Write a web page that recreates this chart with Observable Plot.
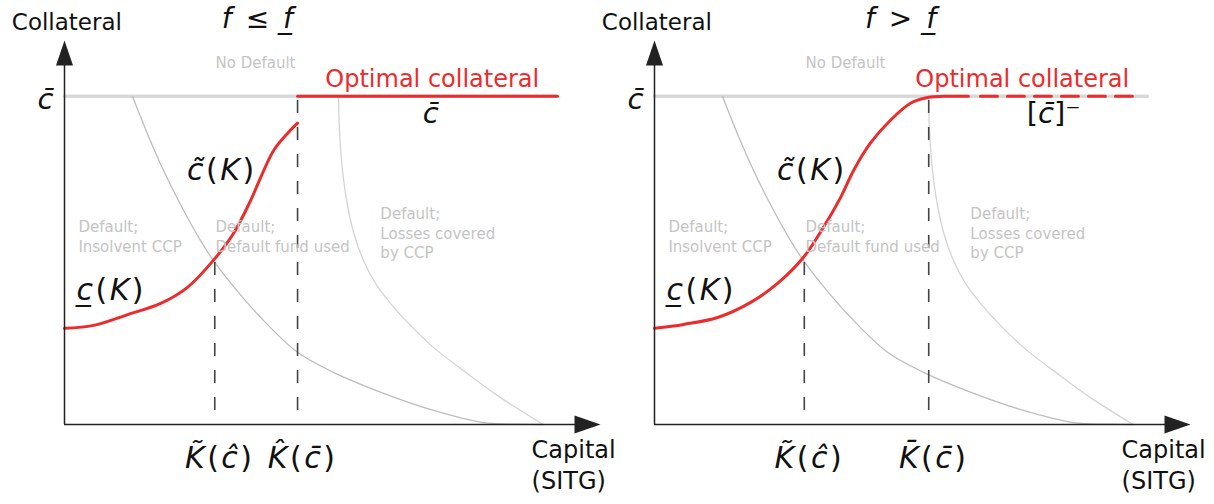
<!DOCTYPE html>
<html><head><meta charset="utf-8">
<script src="https://cdn.jsdelivr.net/npm/d3@7"></script>
<script src="https://cdn.jsdelivr.net/npm/@observablehq/plot@0.6"></script>
<style>
body{margin:0;background:#fff;}
#wrap{position:relative;width:1214px;height:504px;overflow:hidden;background:#fff;}
#wrap svg{position:absolute;top:0;}
</style></head><body><div id="wrap"></div>
<script>
// ---------------- data (Capital K, Collateral c) ----------------
const capitalMax = 1.12;
const collateralMax = 1.17;
const cBar = 1;

const titles = ["*f*\u2002\u2264\u2002*f\u0332*", "*f*\u2002>\u2002*f\u0332*"];

// optimal collateral, left panel (f <= f_)
const redLeft = [[0,0.293],[0.061,0.302],[0.132,0.335],[0.201,0.369],[0.257,0.418],[0.311,0.500],[0.353,0.582],[0.389,0.683],[0.410,0.753],[0.437,0.835],[0.466,0.887],[0.487,0.918]];
const redLeftFlat = [[0.487,1],[1.030,1]];
// optimal collateral, right panel (f > f_)
const redRight = [[0,0.293],[0.061,0.305],[0.132,0.326],[0.201,0.372],[0.257,0.430],[0.311,0.509],[0.353,0.601],[0.389,0.692],[0.416,0.774],[0.451,0.857],[0.493,0.927],[0.535,0.979],[0.573,0.997],[0.604,1],[0.656,1]];
const redRightLimit = [[0.681,1],[1.0,1]];

// c-bar ceiling
const ceiling = [[0,1],[1.030,1]];
// region boundaries
const insolventBoundary = [[0.142,1],[0.173,0.887],[0.207,0.774],[0.249,0.652],[0.284,0.561],[0.311,0.500],[0.353,0.421],[0.410,0.326],[0.487,0.220],[0.562,0.159],[0.667,0.095],[0.771,0.043],[0.875,0.006],[0.947,0.001],[1.0,0]];
const lossBoundary = [[0.5725,1],[0.5746,0.896],[0.5809,0.774],[0.5913,0.668],[0.6059,0.576],[0.6247,0.500],[0.6498,0.430],[0.6812,0.369],[0.7229,0.302],[0.7710,0.235],[0.8420,0.155],[0.9110,0.082],[1.0,0]];

// vertical reference lines: [K, top collateral]
const guidesLeft = [[0.314,0.500],[0.487,1]];
const guidesRight = [[0.313,0.506],[0.573,1]];
const guideBottom = 0.043;

// x tick labels
const tickLabelsLeft = ["*K\u0303*(*c\u0302*)", "*K\u0302*(*c\u0304*)"];
const tickLabelsRight = ["*K\u0303*(*c\u0302*)", "*K\u0304*(*c\u0304*)"];
const yTickLabel = "*c\u0304*";

// region annotations [K, c, text]
const regionLabels = [
  [0.029, 0.527, "Default;\nInsolvent CCP"],
  [0.3155, 0.527, "Default;\nDefault fund used"],
  [0.660, 0.506, "Default;\nLosses covered\nby CCP"],
  [0.3155, 1.085, "No Default"]
];
const curveLabels = [
  [0.256, 0.744, "*c\u0303*(*K*)"],
  [0.025, 0.378, "*c\u0332*(*K*)"]
];
const optimalLabel = [[0.545, 1.027, "Optimal collateral"]];
const ceilingLabels = [[0.765, 0.918, "*c\u0304*"], [0.834, 0.918, "[*c\u0304*]\u207B"]];
const titlePos = [[0.403, 1.207], [0.514, 1.207]];
const yAxisTitle = [[0.005, 1.201, "Collateral"]];
const xAxisTitle = [[0.976, -0.198, "Capital\n(SITG)"]];

// ---------------- drawing ----------------
const RED = "#ec2b2b";
const GRAYTXT = "#c4c4c4";
const arrowUp = {draw(ctx){ctx.moveTo(0,0);ctx.lineTo(-8.5,25);ctx.lineTo(8.5,25);ctx.closePath();}};
const arrowRight = {draw(ctx){ctx.moveTo(0,0);ctx.lineTo(-26,-9);ctx.lineTo(-26,9);ctx.closePath();}};
const X = d => d[0], Y = d => d[1], T = d => d[2];

function richify(svg) {
  svg.querySelectorAll("text").forEach(t => {
    if (t.querySelector("tspan")) return;
    const s = t.textContent;
    if (!s.includes("*")) return;
    t.textContent = "";
    s.split("*").forEach((seg, k) => {
      if (!seg) return;
      const ts = document.createElementNS("http://www.w3.org/2000/svg", "tspan");
      if (k % 2 === 1) ts.setAttribute("font-style", "italic");
      ts.textContent = seg;
      t.appendChild(ts);
    });
  });
}

function panel(i) {
  const left = i === 0;
  const guides = left ? guidesLeft : guidesRight;
  const tickLabels = left ? tickLabelsLeft : tickLabelsRight;
  const tickMap = new Map(guides.map((g, j) => [g[0], tickLabels[j]]));
  const math = {letterSpacing: "2.5px"};
  const marks = [
    Plot.line(ceiling, {x: X, y: Y, stroke: "#d9d9d9", strokeWidth: 3.5}),
    Plot.line(insolventBoundary, {x: X, y: Y, stroke: "#bdbdbd", strokeWidth: 1.3, curve: "catmull-rom"}),
    Plot.line(lossBoundary, {x: X, y: Y, stroke: "#d4d4d4", strokeWidth: 1.3, curve: "catmull-rom"}),
    Plot.ruleX(guides, {x: X, y1: guideBottom, y2: Y, stroke: "#444", strokeWidth: 1.6, strokeDasharray: "13,14"}),
    Plot.line(left ? redLeft : redRight, {x: X, y: Y, stroke: RED, strokeWidth: 3, curve: "catmull-rom"}),
    left ? Plot.line(redLeftFlat, {x: X, y: Y, stroke: RED, strokeWidth: 3})
         : Plot.line(redRightLimit, {x: X, y: Y, stroke: RED, strokeWidth: 3, strokeDasharray: "17,10"}),
    Plot.ruleX([0], {y1: 0, y2: collateralMax - 0.02, stroke: "#222", strokeWidth: 1.5}),
    Plot.ruleY([0], {x1: 0, x2: capitalMax - 0.02, stroke: "#222", strokeWidth: 1.5}),
    Plot.dot([[0, collateralMax]], {x: X, y: Y, symbol: arrowUp, fill: "#222", r: 5}),
    Plot.dot([[capitalMax, 0]], {x: X, y: Y, symbol: arrowRight, fill: "#222", r: 5}),
    Plot.axisX(guides.map(X), {tickFormat: d => tickMap.get(d), tickSize: 0, tickPadding: 22, fontSize: 30, dx: 5, label: null, style: math}),
    Plot.axisY([cBar], {tickFormat: () => yTickLabel, tickSize: 0, tickPadding: 11, fontSize: 29, dy: 3, label: null}),
    Plot.text(regionLabels, {x: X, y: Y, text: T, fill: GRAYTXT, fontSize: 15, textAnchor: "start", lineAnchor: "bottom", lineHeight: 1.3}),
    Plot.text(curveLabels, {x: X, y: Y, text: T, fill: "#111", fontSize: 30, textAnchor: "start", lineAnchor: "bottom"}),
    Plot.text(optimalLabel, {x: X, y: Y, text: T, fill: RED, fontSize: 24, textAnchor: "start", lineAnchor: "bottom"}),
    Plot.text([ceilingLabels[i]], {x: X, y: Y, text: T, fill: "#111", fontSize: 29, textAnchor: "middle", lineAnchor: "bottom"}),
    Plot.text([titlePos[i]], {x: X, y: Y, text: () => titles[i], fill: "#111", fontSize: 28, textAnchor: "middle", lineAnchor: "bottom"}),
    Plot.text(yAxisTitle, {x: X, y: Y, text: T, fill: "#111", fontSize: 23, textAnchor: "middle", lineAnchor: "bottom"}),
    Plot.text(xAxisTitle, {x: X, y: Y, text: T, fill: "#111", fontSize: 24, textAnchor: "start", lineAnchor: "bottom", lineHeight: 1.33})
  ];
  const svg = Plot.plot({
    width: 624, height: 504,
    marginLeft: 64, marginRight: 24, marginTop: 40, marginBottom: 80,
    x: {domain: [0, capitalMax]},
    y: {domain: [0, collateralMax]},
    style: {background: "transparent", overflow: "visible", fontFamily: "DejaVu Sans", color: "#111"},
    marks
  });
  richify(svg);
  // widen math labels (curve labels and x tick labels)
  svg.querySelectorAll("text").forEach(t => {
    const s = t.textContent;
    if (/[K]/.test(s) && t.querySelector("tspan[font-style]")) t.setAttribute("letter-spacing", "2.5px");
  });
  svg.style.left = (left ? 0 : 590) + "px";
  return svg;
}

const wrap = document.getElementById("wrap");
wrap.appendChild(panel(0));
wrap.appendChild(panel(1));
</script></body></html>
